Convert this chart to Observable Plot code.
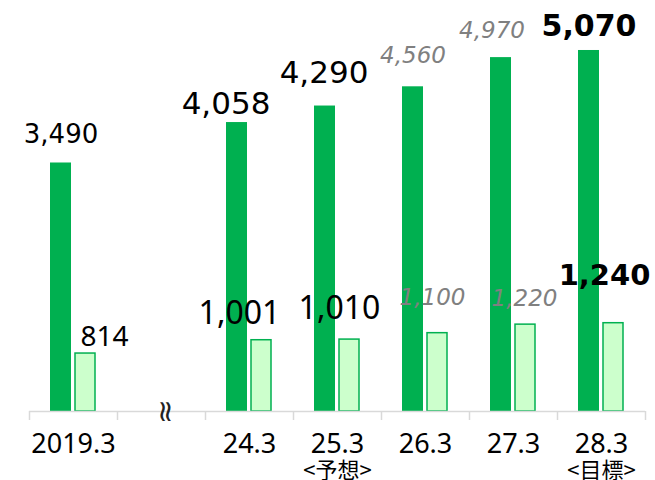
<!DOCTYPE html>
<html><head><meta charset="utf-8">
<script src="https://cdn.jsdelivr.net/npm/d3@7"></script>
<script src="https://cdn.jsdelivr.net/npm/@observablehq/plot@0.6"></script>
<style>body{margin:0;background:#fff}</style>
</head><body><div id="chart"></div>
<script>
// ---- data ----
const categories = ["2019.3", "gap", "24.3", "25.3", "26.3", "27.3", "28.3"];
const tickLabels = ["2019.3", "", "24.3", "25.3", "26.3", "27.3", "28.3"];
const subLabels = ["", "", "", "<予想>", "", "", "<目標>"];
const seriesA = [3490, null, 4058, 4290, 4560, 4970, 5070];
const seriesB = [814, null, 1001, 1010, 1100, 1220, 1240];
const breakMark = "≈";
// label kinds (semantic)
const labelKindA = ["actualSmall", null, "actual", "actual", "plan", "plan", "target"];
const labelKindB = ["narrowSmall", null, "narrow", "narrow", "plan", "plan", "targetB"];

// ---- layout (label nudges, px) ----
const labelDxA = [0, 0, -11, -1, 0, -9, 0];
const labelDyA = [-20, 0, -9, -23, -24, -20, -14];
const labelDxB = [19, 0, -22, -10, -5, -1, -9];
const labelDyB = [-8, 0, -16, -21, -28, -19, -38];

const W = 655, H = 480, mL = 29, mR = 10, mT = 0, mB = 69;
const step = (W - mL - mR) / categories.length;
const green = "#00b050", lightGreen = "#ccffcc", axisGray = "#d9d9d9";

const styles = {
  actualSmall: {fontFamily: "DejaVu Sans", fontSize: 26, fill: "#000"},
  actual: {fontFamily: "DejaVu Sans", fontSize: 31, fill: "#000"},
  plan: {fontFamily: "DejaVu Sans", fontSize: 23, fontStyle: "italic", fill: "#808080"},
  target: {fontFamily: "DejaVu Sans", fontSize: 30, fontWeight: "bold", fill: "#000"},
  targetB: {fontFamily: "DejaVu Sans", fontSize: 29, fontWeight: "bold", fill: "#000"},
  narrowSmall: {fontFamily: "Noto Sans", fontSize: 28, fill: "#000"},
  narrow: {fontFamily: "Noto Sans", fontSize: 32, fill: "#000"}
};

const rows = categories.map((c, i) => ({cat: c, a: seriesA[i], b: seriesB[i], i}));
const valid = rows.filter(r => r.a != null);
const fmt = d3.format(",");

const labelMarks = [];
valid.forEach(r => {
  labelMarks.push(Plot.text([r], {
    x: "cat", y: "a", text: d => fmt(d.a),
    dx: -step / 2 + 31.5 + labelDxA[r.i], dy: labelDyA[r.i],
    lineAnchor: "bottom", textAnchor: "middle", ...styles[labelKindA[r.i]]
  }));
  labelMarks.push(Plot.text([r], {
    x: "cat", y: "b", text: d => fmt(d.b),
    dx: -step / 2 + 56 + labelDxB[r.i], dy: labelDyB[r.i],
    lineAnchor: "bottom", textAnchor: "middle", ...styles[labelKindB[r.i]]
  }));
});

const chart = Plot.plot({
  width: W, height: H,
  marginLeft: mL, marginRight: mR, marginTop: mT, marginBottom: mB,
  style: {background: "white", overflow: "visible"},
  x: {type: "band", domain: categories, padding: 0, label: null},
  y: {domain: [0, 5772], axis: null},
  marks: [
    Plot.barY(valid, {x: "cat", y: "a", fill: green, insetLeft: 21, insetRight: 46}),
    Plot.barY(valid, {x: "cat", y: "b", fill: lightGreen, stroke: green, strokeWidth: 1.5, insetLeft: 46, insetRight: 22}),
    Plot.ruleY([0], {stroke: axisGray, strokeWidth: 1.5}),
    Plot.axisX({tickSize: 9, dx: -step / 2, stroke: axisGray, strokeWidth: 1.5, tickFormat: () => "", label: null}),
    Plot.axisX([categories[categories.length - 1]], {tickSize: 9, dx: step / 2, stroke: axisGray, strokeWidth: 1.5, tickFormat: () => "", label: null}),
    Plot.text(categories, {x: d => d, frameAnchor: "bottom", dy: 41, lineAnchor: "bottom",
      text: (d, i) => tickLabels[i], fontFamily: "Noto Sans", fontSize: 27, fill: "#000"}),
    Plot.text(categories, {x: d => d, frameAnchor: "bottom", dy: 66, lineAnchor: "bottom",
      text: (d, i) => subLabels[i], fontFamily: "Noto Sans CJK JP", fontSize: 22, fill: "#000"}),
    Plot.text(["gap"], {x: d => d, y: () => 0, text: () => breakMark, dx: 4, dy: 0,
      rotate: 90, lineAnchor: "middle", fontFamily: "DejaVu Sans", fontSize: 30, fill: "#222"}),
    ...labelMarks
  ]
});
document.getElementById("chart").append(chart);
</script>
</body></html>
